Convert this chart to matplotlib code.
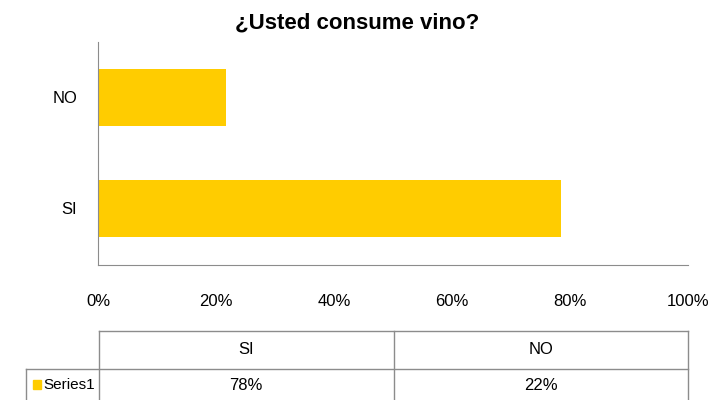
import matplotlib.pyplot as plt

# Datos
categorias = ["SI", "NO"]
valores = [0.785, 0.217]
etiquetas_valor = ["78%", "22%"]
serie = "Series1"
ticks_x = [0, 0.2, 0.4, 0.6, 0.8, 1.0]
ticks_txt = ["0%", "20%", "40%", "60%", "80%", "100%"]

color_barra = "#FFCC00"
color_linea = "#8C8C8C"
plt.rcParams["font.family"] = ["Liberation Sans", "DejaVu Sans"]

fig = plt.figure(figsize=(7.14, 4.0), dpi=100)
ax = fig.add_axes([98 / 714, 1 - 265 / 400, 590 / 714, 223 / 400])

ax.barh(range(len(categorias)), valores, height=0.514, color=color_barra)
ax.set_xlim(0, 1)
ax.set_ylim(-0.51, 1.5)
ax.set_yticks(range(len(categorias)))
ax.set_yticklabels(categorias, fontsize=12)
ax.set_xticks(ticks_x)
ax.set_xticklabels(ticks_txt, fontsize=12)
ax.tick_params(length=0)
ax.tick_params(axis="x", pad=21)
ax.tick_params(axis="y", pad=15)
for s in ["top", "right"]:
    ax.spines[s].set_visible(False)
for s in ["left", "bottom"]:
    ax.spines[s].set_color(color_linea)

fig.text(357 / 714, 1 - 23 / 400, "¿Usted consume vino?", ha="center", va="center",
         fontsize=16, fontweight="bold")

# Tabla de datos
tab = fig.add_axes([0, 0, 1, 1])
tab.set_xlim(0, 714)
tab.set_ylim(400, 0)
tab.axis("off")

x0, x_izq, x_der = 99, 26, 688
ancho = (x_der - x0) / len(categorias)
cols = [x0 + i * ancho for i in range(len(categorias) + 1)]
y_top, y_mid, y_bot = 331, 369, 400

tab.plot([x0, x_der], [y_top, y_top], color=color_linea, lw=1)
tab.plot([x_izq, x_der], [y_mid, y_mid], color=color_linea, lw=1)
for c in cols:
    tab.plot([c, c], [y_top, y_bot], color=color_linea, lw=1)
tab.plot([x_izq, x_izq], [y_mid, y_bot], color=color_linea, lw=1)

for i, cat in enumerate(categorias):
    xc = cols[i] + ancho / 2
    tab.text(xc, (y_top + y_mid) / 2, cat, ha="center", va="center", fontsize=12)
    tab.text(xc, (y_mid + y_bot) / 2 + 1, etiquetas_valor[i], ha="center", va="center", fontsize=12)

tab.add_patch(plt.Rectangle((33, 380), 8, 9, color=color_barra))
tab.text(43, 385, serie, ha="left", va="center", fontsize=11)

fig.savefig("out.png", dpi=100)
